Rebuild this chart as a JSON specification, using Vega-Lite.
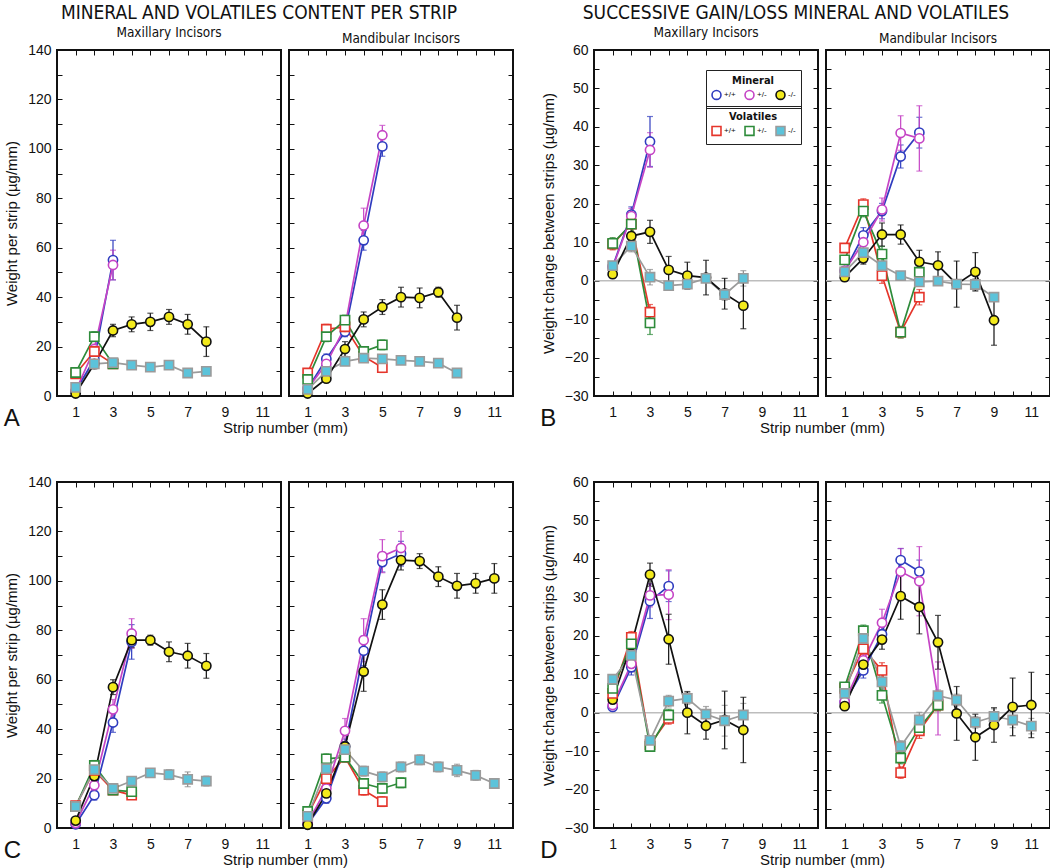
{
"$schema": "https://vega.github.io/schema/vega-lite/v6.json",
"padding": {"left": 3, "top": 3, "right": 2, "bottom": 2},
"datasets": {"d": [
{"p":"A1","k":"M","g":"+/+","x":1,"y":2,"lo":1,"hi":3},
{"p":"A1","k":"M","g":"+/+","x":2,"y":15,"lo":13,"hi":17},
{"p":"A1","k":"M","g":"+/+","x":3,"y":55,"lo":47,"hi":63},
{"p":"A1","k":"M","g":"+/-","x":1,"y":2,"lo":1,"hi":3},
{"p":"A1","k":"M","g":"+/-","x":2,"y":19,"lo":17,"hi":21},
{"p":"A1","k":"M","g":"+/-","x":3,"y":53,"lo":47,"hi":59},
{"p":"A1","k":"M","g":"-/-","x":1,"y":1,"lo":0.5,"hi":1.5},
{"p":"A1","k":"M","g":"-/-","x":2,"y":13,"lo":11,"hi":15},
{"p":"A1","k":"M","g":"-/-","x":3,"y":26.5,"lo":24,"hi":29},
{"p":"A1","k":"M","g":"-/-","x":4,"y":29,"lo":26,"hi":32},
{"p":"A1","k":"M","g":"-/-","x":5,"y":30,"lo":26.5,"hi":33.5},
{"p":"A1","k":"M","g":"-/-","x":6,"y":32,"lo":29,"hi":35},
{"p":"A1","k":"M","g":"-/-","x":7,"y":29,"lo":25,"hi":33},
{"p":"A1","k":"M","g":"-/-","x":8,"y":22,"lo":16,"hi":28},
{"p":"A1","k":"V","g":"+/+","x":1,"y":9,"lo":8,"hi":10},
{"p":"A1","k":"V","g":"+/+","x":2,"y":18,"lo":16,"hi":20},
{"p":"A1","k":"V","g":"+/+","x":3,"y":13,"lo":11.5,"hi":14.5},
{"p":"A1","k":"V","g":"+/-","x":1,"y":9.5,"lo":8.5,"hi":10.5},
{"p":"A1","k":"V","g":"+/-","x":2,"y":24,"lo":22,"hi":26},
{"p":"A1","k":"V","g":"+/-","x":3,"y":13,"lo":11.5,"hi":14.5},
{"p":"A1","k":"V","g":"-/-","x":1,"y":3.5,"lo":2.5,"hi":4.5},
{"p":"A1","k":"V","g":"-/-","x":2,"y":13,"lo":11.5,"hi":14.5},
{"p":"A1","k":"V","g":"-/-","x":3,"y":13.5,"lo":12,"hi":15},
{"p":"A1","k":"V","g":"-/-","x":4,"y":12.5,"lo":11.5,"hi":13.5},
{"p":"A1","k":"V","g":"-/-","x":5,"y":11.7,"lo":10.7,"hi":12.7},
{"p":"A1","k":"V","g":"-/-","x":6,"y":12.5,"lo":11.5,"hi":13.5},
{"p":"A1","k":"V","g":"-/-","x":7,"y":9.3,"lo":8.3,"hi":10.3},
{"p":"A1","k":"V","g":"-/-","x":8,"y":10,"lo":9,"hi":11},

{"p":"A2","k":"M","g":"+/+","x":1,"y":3,"lo":2,"hi":4},
{"p":"A2","k":"M","g":"+/+","x":2,"y":15,"lo":13,"hi":17},
{"p":"A2","k":"M","g":"+/+","x":3,"y":26,"lo":24,"hi":28},
{"p":"A2","k":"M","g":"+/+","x":4,"y":63,"lo":59,"hi":67},
{"p":"A2","k":"M","g":"+/+","x":5,"y":101,"lo":97,"hi":105},
{"p":"A2","k":"M","g":"+/-","x":1,"y":3,"lo":2,"hi":4},
{"p":"A2","k":"M","g":"+/-","x":2,"y":13,"lo":11,"hi":15},
{"p":"A2","k":"M","g":"+/-","x":3,"y":28,"lo":26,"hi":30},
{"p":"A2","k":"M","g":"+/-","x":4,"y":69,"lo":62,"hi":76},
{"p":"A2","k":"M","g":"+/-","x":5,"y":105.5,"lo":101.5,"hi":109.5},
{"p":"A2","k":"M","g":"-/-","x":1,"y":1,"lo":0.5,"hi":1.5},
{"p":"A2","k":"M","g":"-/-","x":2,"y":7,"lo":6,"hi":8},
{"p":"A2","k":"M","g":"-/-","x":3,"y":19,"lo":16,"hi":22},
{"p":"A2","k":"M","g":"-/-","x":4,"y":31,"lo":28,"hi":34},
{"p":"A2","k":"M","g":"-/-","x":5,"y":36,"lo":33,"hi":39},
{"p":"A2","k":"M","g":"-/-","x":6,"y":40,"lo":36,"hi":44},
{"p":"A2","k":"M","g":"-/-","x":7,"y":39.7,"lo":35.7,"hi":43.7},
{"p":"A2","k":"M","g":"-/-","x":8,"y":42,"lo":40,"hi":44},
{"p":"A2","k":"M","g":"-/-","x":9,"y":31.7,"lo":26.7,"hi":36.7},
{"p":"A2","k":"V","g":"+/+","x":1,"y":9.3,"lo":8.3,"hi":10.3},
{"p":"A2","k":"V","g":"+/+","x":2,"y":27,"lo":25,"hi":29},
{"p":"A2","k":"V","g":"+/+","x":3,"y":28,"lo":26,"hi":30},
{"p":"A2","k":"V","g":"+/+","x":4,"y":16,"lo":14,"hi":18},
{"p":"A2","k":"V","g":"+/+","x":5,"y":11.5,"lo":9.5,"hi":13.5},
{"p":"A2","k":"V","g":"+/-","x":1,"y":6.7,"lo":5.7,"hi":7.7},
{"p":"A2","k":"V","g":"+/-","x":2,"y":24,"lo":22,"hi":26},
{"p":"A2","k":"V","g":"+/-","x":3,"y":30.7,"lo":28.7,"hi":32.7},
{"p":"A2","k":"V","g":"+/-","x":4,"y":18,"lo":16,"hi":20},
{"p":"A2","k":"V","g":"+/-","x":5,"y":20.7,"lo":18.7,"hi":22.7},
{"p":"A2","k":"V","g":"-/-","x":1,"y":2.7,"lo":1.7,"hi":3.7},
{"p":"A2","k":"V","g":"-/-","x":2,"y":10,"lo":9,"hi":11},
{"p":"A2","k":"V","g":"-/-","x":3,"y":14,"lo":13,"hi":15},
{"p":"A2","k":"V","g":"-/-","x":4,"y":15.3,"lo":14.3,"hi":16.3},
{"p":"A2","k":"V","g":"-/-","x":5,"y":15,"lo":14,"hi":16},
{"p":"A2","k":"V","g":"-/-","x":6,"y":14.4,"lo":13.4,"hi":15.4},
{"p":"A2","k":"V","g":"-/-","x":7,"y":14,"lo":13,"hi":15},
{"p":"A2","k":"V","g":"-/-","x":8,"y":13.3,"lo":12.3,"hi":14.3},
{"p":"A2","k":"V","g":"-/-","x":9,"y":9.3,"lo":8.3,"hi":10.3},

{"p":"B1","k":"M","g":"+/+","x":1,"y":3.7,"lo":2.7,"hi":4.7},
{"p":"B1","k":"M","g":"+/+","x":2,"y":17.2,"lo":15.2,"hi":19.2},
{"p":"B1","k":"M","g":"+/+","x":3,"y":36.2,"lo":29.7,"hi":42.7},
{"p":"B1","k":"M","g":"+/-","x":1,"y":3.4,"lo":2.4,"hi":4.4},
{"p":"B1","k":"M","g":"+/-","x":2,"y":16.8,"lo":14.8,"hi":18.8},
{"p":"B1","k":"M","g":"+/-","x":3,"y":34,"lo":29.5,"hi":38.5},
{"p":"B1","k":"M","g":"-/-","x":1,"y":1.7,"lo":0.7,"hi":2.7},
{"p":"B1","k":"M","g":"-/-","x":2,"y":11.6,"lo":9.6,"hi":13.6},
{"p":"B1","k":"M","g":"-/-","x":3,"y":12.7,"lo":9.7,"hi":15.7},
{"p":"B1","k":"M","g":"-/-","x":4,"y":2.8,"lo":-0.7,"hi":6.3},
{"p":"B1","k":"M","g":"-/-","x":5,"y":1.3,"lo":-2.2,"hi":4.8},
{"p":"B1","k":"M","g":"-/-","x":6,"y":0.8,"lo":-3.7,"hi":5.3},
{"p":"B1","k":"M","g":"-/-","x":7,"y":-3.4,"lo":-7.4,"hi":0.6},
{"p":"B1","k":"M","g":"-/-","x":8,"y":-6.5,"lo":-12.5,"hi":-0.5},
{"p":"B1","k":"V","g":"+/+","x":1,"y":9.5,"lo":8,"hi":11},
{"p":"B1","k":"V","g":"+/+","x":2,"y":14.7,"lo":12.7,"hi":16.7},
{"p":"B1","k":"V","g":"+/+","x":3,"y":-8.2,"lo":-10.2,"hi":-6.2},
{"p":"B1","k":"V","g":"+/-","x":1,"y":9.7,"lo":8.2,"hi":11.2},
{"p":"B1","k":"V","g":"+/-","x":2,"y":14.7,"lo":12.7,"hi":16.7},
{"p":"B1","k":"V","g":"+/-","x":3,"y":-11,"lo":-14,"hi":-8},
{"p":"B1","k":"V","g":"-/-","x":1,"y":3.9,"lo":2.9,"hi":4.9},
{"p":"B1","k":"V","g":"-/-","x":2,"y":9,"lo":7.5,"hi":10.5},
{"p":"B1","k":"V","g":"-/-","x":3,"y":0.9,"lo":-1.1,"hi":2.9},
{"p":"B1","k":"V","g":"-/-","x":4,"y":-1.3,"lo":-2.3,"hi":-0.3},
{"p":"B1","k":"V","g":"-/-","x":5,"y":-0.9,"lo":-1.9,"hi":0.1},
{"p":"B1","k":"V","g":"-/-","x":6,"y":0.6,"lo":-0.4,"hi":1.6},
{"p":"B1","k":"V","g":"-/-","x":7,"y":-3.6,"lo":-5.1,"hi":-2.1},
{"p":"B1","k":"V","g":"-/-","x":8,"y":0.6,"lo":-1.4,"hi":2.6},

{"p":"B2","k":"M","g":"+/+","x":1,"y":2.5,"lo":1.5,"hi":3.5},
{"p":"B2","k":"M","g":"+/+","x":2,"y":11.8,"lo":9.8,"hi":13.8},
{"p":"B2","k":"M","g":"+/+","x":3,"y":18.1,"lo":16.1,"hi":20.1},
{"p":"B2","k":"M","g":"+/+","x":4,"y":32.3,"lo":29.3,"hi":35.3},
{"p":"B2","k":"M","g":"+/+","x":5,"y":38.5,"lo":34.5,"hi":42.5},
{"p":"B2","k":"M","g":"+/-","x":1,"y":2.6,"lo":1.6,"hi":3.6},
{"p":"B2","k":"M","g":"+/-","x":2,"y":10,"lo":8,"hi":12},
{"p":"B2","k":"M","g":"+/-","x":3,"y":18.5,"lo":15.5,"hi":21.5},
{"p":"B2","k":"M","g":"+/-","x":4,"y":38.4,"lo":33.9,"hi":42.9},
{"p":"B2","k":"M","g":"+/-","x":5,"y":37,"lo":28.5,"hi":45.5},
{"p":"B2","k":"M","g":"-/-","x":1,"y":0.9,"lo":-0.1,"hi":1.9},
{"p":"B2","k":"M","g":"-/-","x":2,"y":5.8,"lo":4.3,"hi":7.3},
{"p":"B2","k":"M","g":"-/-","x":3,"y":12,"lo":9,"hi":15},
{"p":"B2","k":"M","g":"-/-","x":4,"y":12,"lo":9.5,"hi":14.5},
{"p":"B2","k":"M","g":"-/-","x":5,"y":4.9,"lo":1.9,"hi":7.9},
{"p":"B2","k":"M","g":"-/-","x":6,"y":4,"lo":0.5,"hi":7.5},
{"p":"B2","k":"M","g":"-/-","x":7,"y":-0.9,"lo":-6.9,"hi":5.1},
{"p":"B2","k":"M","g":"-/-","x":8,"y":2.3,"lo":-2.7,"hi":7.3},
{"p":"B2","k":"M","g":"-/-","x":9,"y":-10.3,"lo":-16.8,"hi":-3.8},
{"p":"B2","k":"V","g":"+/+","x":1,"y":8.5,"lo":7.5,"hi":9.5},
{"p":"B2","k":"V","g":"+/+","x":2,"y":19.8,"lo":18.3,"hi":21.3},
{"p":"B2","k":"V","g":"+/+","x":3,"y":1.3,"lo":-0.7,"hi":3.3},
{"p":"B2","k":"V","g":"+/+","x":4,"y":-13.4,"lo":-14.9,"hi":-11.9},
{"p":"B2","k":"V","g":"+/+","x":5,"y":-4.3,"lo":-6.3,"hi":-2.3},
{"p":"B2","k":"V","g":"+/-","x":1,"y":5.4,"lo":4.4,"hi":6.4},
{"p":"B2","k":"V","g":"+/-","x":2,"y":18.1,"lo":16.6,"hi":19.6},
{"p":"B2","k":"V","g":"+/-","x":3,"y":6.9,"lo":4.9,"hi":8.9},
{"p":"B2","k":"V","g":"+/-","x":4,"y":-13.4,"lo":-14.9,"hi":-11.9},
{"p":"B2","k":"V","g":"+/-","x":5,"y":2.2,"lo":0.2,"hi":4.2},
{"p":"B2","k":"V","g":"-/-","x":1,"y":2.3,"lo":1.3,"hi":3.3},
{"p":"B2","k":"V","g":"-/-","x":2,"y":7.3,"lo":6.3,"hi":8.3},
{"p":"B2","k":"V","g":"-/-","x":3,"y":3.9,"lo":2.9,"hi":4.9},
{"p":"B2","k":"V","g":"-/-","x":4,"y":1.3,"lo":0.3,"hi":2.3},
{"p":"B2","k":"V","g":"-/-","x":5,"y":-0.3,"lo":-1.3,"hi":0.7},
{"p":"B2","k":"V","g":"-/-","x":6,"y":-0.1,"lo":-1.1,"hi":0.9},
{"p":"B2","k":"V","g":"-/-","x":7,"y":-0.9,"lo":-1.9,"hi":0.1},
{"p":"B2","k":"V","g":"-/-","x":8,"y":-1,"lo":-2.5,"hi":0.5},
{"p":"B2","k":"V","g":"-/-","x":9,"y":-4.3,"lo":-5.3,"hi":-3.3},

{"p":"C1","k":"M","g":"+/+","x":1,"y":1.5,"lo":0.5,"hi":2.5},
{"p":"C1","k":"M","g":"+/+","x":2,"y":13.3,"lo":11.3,"hi":15.3},
{"p":"C1","k":"M","g":"+/+","x":3,"y":42.7,"lo":38.7,"hi":46.7},
{"p":"C1","k":"M","g":"+/+","x":4,"y":75.3,"lo":68.3,"hi":82.3},
{"p":"C1","k":"M","g":"+/-","x":1,"y":2,"lo":1,"hi":3},
{"p":"C1","k":"M","g":"+/-","x":2,"y":17.3,"lo":15.3,"hi":19.3},
{"p":"C1","k":"M","g":"+/-","x":3,"y":48,"lo":44,"hi":52},
{"p":"C1","k":"M","g":"+/-","x":4,"y":78.7,"lo":72.7,"hi":84.7},
{"p":"C1","k":"M","g":"-/-","x":1,"y":3,"lo":2,"hi":4},
{"p":"C1","k":"M","g":"-/-","x":2,"y":21,"lo":19,"hi":23},
{"p":"C1","k":"M","g":"-/-","x":3,"y":57,"lo":54,"hi":60},
{"p":"C1","k":"M","g":"-/-","x":4,"y":76,"lo":73,"hi":79},
{"p":"C1","k":"M","g":"-/-","x":5,"y":76,"lo":74,"hi":78},
{"p":"C1","k":"M","g":"-/-","x":6,"y":71.3,"lo":67.3,"hi":75.3},
{"p":"C1","k":"M","g":"-/-","x":7,"y":69.7,"lo":64.7,"hi":74.7},
{"p":"C1","k":"M","g":"-/-","x":8,"y":65.6,"lo":60.6,"hi":70.6},
{"p":"C1","k":"V","g":"+/+","x":1,"y":9,"lo":8,"hi":10},
{"p":"C1","k":"V","g":"+/+","x":2,"y":23.3,"lo":21.3,"hi":25.3},
{"p":"C1","k":"V","g":"+/+","x":3,"y":15.3,"lo":14.3,"hi":16.3},
{"p":"C1","k":"V","g":"+/+","x":4,"y":13.3,"lo":12.3,"hi":14.3},
{"p":"C1","k":"V","g":"+/-","x":1,"y":8.7,"lo":7.7,"hi":9.7},
{"p":"C1","k":"V","g":"+/-","x":2,"y":25.3,"lo":23.3,"hi":27.3},
{"p":"C1","k":"V","g":"+/-","x":3,"y":15.3,"lo":14.3,"hi":16.3},
{"p":"C1","k":"V","g":"+/-","x":4,"y":14.7,"lo":13.7,"hi":15.7},
{"p":"C1","k":"V","g":"-/-","x":1,"y":8.7,"lo":7.7,"hi":9.7},
{"p":"C1","k":"V","g":"-/-","x":2,"y":23.6,"lo":21.6,"hi":25.6},
{"p":"C1","k":"V","g":"-/-","x":3,"y":16,"lo":15,"hi":17},
{"p":"C1","k":"V","g":"-/-","x":4,"y":19,"lo":18,"hi":20},
{"p":"C1","k":"V","g":"-/-","x":5,"y":22.3,"lo":21.3,"hi":23.3},
{"p":"C1","k":"V","g":"-/-","x":6,"y":21.6,"lo":19.6,"hi":23.6},
{"p":"C1","k":"V","g":"-/-","x":7,"y":19.7,"lo":16.7,"hi":22.7},
{"p":"C1","k":"V","g":"-/-","x":8,"y":19,"lo":17,"hi":21},

{"p":"C2","k":"M","g":"+/+","x":1,"y":1.5,"lo":0.5,"hi":2.5},
{"p":"C2","k":"M","g":"+/+","x":2,"y":12,"lo":10,"hi":14},
{"p":"C2","k":"M","g":"+/+","x":3,"y":33,"lo":30,"hi":36},
{"p":"C2","k":"M","g":"+/+","x":4,"y":71.7,"lo":65.7,"hi":77.7},
{"p":"C2","k":"M","g":"+/+","x":5,"y":107.6,"lo":103.6,"hi":111.6},
{"p":"C2","k":"M","g":"+/+","x":6,"y":111,"lo":106,"hi":116},
{"p":"C2","k":"M","g":"+/-","x":1,"y":2,"lo":1,"hi":3},
{"p":"C2","k":"M","g":"+/-","x":2,"y":16,"lo":14,"hi":18},
{"p":"C2","k":"M","g":"+/-","x":3,"y":39.3,"lo":34.3,"hi":44.3},
{"p":"C2","k":"M","g":"+/-","x":4,"y":76,"lo":67.3,"hi":84.7},
{"p":"C2","k":"M","g":"+/-","x":5,"y":110,"lo":103.3,"hi":116.7},
{"p":"C2","k":"M","g":"+/-","x":6,"y":113.3,"lo":106.6,"hi":120},
{"p":"C2","k":"M","g":"-/-","x":1,"y":1.3,"lo":0.3,"hi":2.3},
{"p":"C2","k":"M","g":"-/-","x":2,"y":14,"lo":12,"hi":16},
{"p":"C2","k":"M","g":"-/-","x":3,"y":33,"lo":31,"hi":35},
{"p":"C2","k":"M","g":"-/-","x":4,"y":63.3,"lo":55.3,"hi":71.3},
{"p":"C2","k":"M","g":"-/-","x":5,"y":90.4,"lo":84.4,"hi":96.4},
{"p":"C2","k":"M","g":"-/-","x":6,"y":108.4,"lo":104.4,"hi":112.4},
{"p":"C2","k":"M","g":"-/-","x":7,"y":108,"lo":105,"hi":111},
{"p":"C2","k":"M","g":"-/-","x":8,"y":101.7,"lo":97.7,"hi":105.7},
{"p":"C2","k":"M","g":"-/-","x":9,"y":98,"lo":93,"hi":103},
{"p":"C2","k":"M","g":"-/-","x":10,"y":99,"lo":95,"hi":103},
{"p":"C2","k":"M","g":"-/-","x":11,"y":101,"lo":95,"hi":107},
{"p":"C2","k":"V","g":"+/+","x":1,"y":5.3,"lo":4.3,"hi":6.3},
{"p":"C2","k":"V","g":"+/+","x":2,"y":20,"lo":18,"hi":22},
{"p":"C2","k":"V","g":"+/+","x":3,"y":28.7,"lo":26.7,"hi":30.7},
{"p":"C2","k":"V","g":"+/+","x":4,"y":15.3,"lo":13.3,"hi":17.3},
{"p":"C2","k":"V","g":"+/+","x":5,"y":10.7,"lo":8.7,"hi":12.7},
{"p":"C2","k":"V","g":"+/-","x":1,"y":6.7,"lo":5.7,"hi":7.7},
{"p":"C2","k":"V","g":"+/-","x":2,"y":28,"lo":26,"hi":30},
{"p":"C2","k":"V","g":"+/-","x":3,"y":28.7,"lo":26.7,"hi":30.7},
{"p":"C2","k":"V","g":"+/-","x":4,"y":18,"lo":16,"hi":20},
{"p":"C2","k":"V","g":"+/-","x":5,"y":16,"lo":14,"hi":18},
{"p":"C2","k":"V","g":"+/-","x":6,"y":18.3,"lo":16.3,"hi":20.3},
{"p":"C2","k":"V","g":"-/-","x":1,"y":4.7,"lo":3.7,"hi":5.7},
{"p":"C2","k":"V","g":"-/-","x":2,"y":24,"lo":22,"hi":26},
{"p":"C2","k":"V","g":"-/-","x":3,"y":31.7,"lo":29.7,"hi":33.7},
{"p":"C2","k":"V","g":"-/-","x":4,"y":23,"lo":21,"hi":25},
{"p":"C2","k":"V","g":"-/-","x":5,"y":20.7,"lo":18.7,"hi":22.7},
{"p":"C2","k":"V","g":"-/-","x":6,"y":24.7,"lo":22.7,"hi":26.7},
{"p":"C2","k":"V","g":"-/-","x":7,"y":27.6,"lo":25.6,"hi":29.6},
{"p":"C2","k":"V","g":"-/-","x":8,"y":24.7,"lo":22.7,"hi":26.7},
{"p":"C2","k":"V","g":"-/-","x":9,"y":23.3,"lo":20.8,"hi":25.8},
{"p":"C2","k":"V","g":"-/-","x":10,"y":21.3,"lo":19.3,"hi":23.3},
{"p":"C2","k":"V","g":"-/-","x":11,"y":18,"lo":16.5,"hi":19.5},

{"p":"D1","k":"M","g":"+/+","x":1,"y":1.5,"lo":0.5,"hi":2.5},
{"p":"D1","k":"M","g":"+/+","x":2,"y":11.8,"lo":9.8,"hi":13.8},
{"p":"D1","k":"M","g":"+/+","x":3,"y":29,"lo":24.5,"hi":33.5},
{"p":"D1","k":"M","g":"+/+","x":4,"y":32.9,"lo":28.9,"hi":36.9},
{"p":"D1","k":"M","g":"+/-","x":1,"y":2,"lo":1,"hi":3},
{"p":"D1","k":"M","g":"+/-","x":2,"y":12.7,"lo":10.7,"hi":14.7},
{"p":"D1","k":"M","g":"+/-","x":3,"y":30.5,"lo":27.5,"hi":33.5},
{"p":"D1","k":"M","g":"+/-","x":4,"y":30.7,"lo":24.2,"hi":37.2},
{"p":"D1","k":"M","g":"-/-","x":1,"y":3.4,"lo":2.4,"hi":4.4},
{"p":"D1","k":"M","g":"-/-","x":2,"y":17.6,"lo":15.6,"hi":19.6},
{"p":"D1","k":"M","g":"-/-","x":3,"y":35.9,"lo":32.9,"hi":38.9},
{"p":"D1","k":"M","g":"-/-","x":4,"y":19.1,"lo":12.6,"hi":25.6},
{"p":"D1","k":"M","g":"-/-","x":5,"y":0,"lo":-5.5,"hi":5.5},
{"p":"D1","k":"M","g":"-/-","x":6,"y":-3.4,"lo":-6.9,"hi":0.1},
{"p":"D1","k":"M","g":"-/-","x":7,"y":-1.9,"lo":-9.4,"hi":5.6},
{"p":"D1","k":"M","g":"-/-","x":8,"y":-4.5,"lo":-13,"hi":4},
{"p":"D1","k":"V","g":"+/+","x":1,"y":5,"lo":4,"hi":6},
{"p":"D1","k":"V","g":"+/+","x":2,"y":19.6,"lo":18.1,"hi":21.1},
{"p":"D1","k":"V","g":"+/+","x":3,"y":-8.3,"lo":-9.3,"hi":-7.3},
{"p":"D1","k":"V","g":"+/+","x":4,"y":-1.5,"lo":-3,"hi":0},
{"p":"D1","k":"V","g":"+/-","x":1,"y":6.3,"lo":5.3,"hi":7.3},
{"p":"D1","k":"V","g":"+/-","x":2,"y":17.9,"lo":16.4,"hi":19.4},
{"p":"D1","k":"V","g":"+/-","x":3,"y":-8.8,"lo":-9.8,"hi":-7.8},
{"p":"D1","k":"V","g":"+/-","x":4,"y":-0.6,"lo":-2.1,"hi":0.9},
{"p":"D1","k":"V","g":"-/-","x":1,"y":8.7,"lo":7.7,"hi":9.7},
{"p":"D1","k":"V","g":"-/-","x":2,"y":14.9,"lo":13.4,"hi":16.4},
{"p":"D1","k":"V","g":"-/-","x":3,"y":-7.2,"lo":-8.2,"hi":-6.2},
{"p":"D1","k":"V","g":"-/-","x":4,"y":3,"lo":1.5,"hi":4.5},
{"p":"D1","k":"V","g":"-/-","x":5,"y":3.7,"lo":2.2,"hi":5.2},
{"p":"D1","k":"V","g":"-/-","x":6,"y":-0.4,"lo":-2.4,"hi":1.6},
{"p":"D1","k":"V","g":"-/-","x":7,"y":-2.1,"lo":-6.1,"hi":1.9},
{"p":"D1","k":"V","g":"-/-","x":8,"y":-0.6,"lo":-3.6,"hi":2.4},

{"p":"D2","k":"M","g":"+/+","x":1,"y":2.8,"lo":1.8,"hi":3.8},
{"p":"D2","k":"M","g":"+/+","x":2,"y":11,"lo":9,"hi":13},
{"p":"D2","k":"M","g":"+/+","x":3,"y":20.4,"lo":18.4,"hi":22.4},
{"p":"D2","k":"M","g":"+/+","x":4,"y":39.7,"lo":36.7,"hi":42.7},
{"p":"D2","k":"M","g":"+/+","x":5,"y":36.7,"lo":33.7,"hi":39.7},
{"p":"D2","k":"M","g":"+/-","x":1,"y":2.8,"lo":1.8,"hi":3.8},
{"p":"D2","k":"M","g":"+/-","x":2,"y":13.6,"lo":11.6,"hi":15.6},
{"p":"D2","k":"M","g":"+/-","x":3,"y":23.4,"lo":19.9,"hi":26.9},
{"p":"D2","k":"M","g":"+/-","x":4,"y":36.7,"lo":30.7,"hi":42.7},
{"p":"D2","k":"M","g":"+/-","x":5,"y":34.2,"lo":25.2,"hi":43.2},
{"p":"D2","k":"M","g":"+/-","x":6,"y":3.7,"lo":-5.8,"hi":13.2},
{"p":"D2","k":"M","g":"-/-","x":1,"y":1.7,"lo":0.7,"hi":2.7},
{"p":"D2","k":"M","g":"-/-","x":2,"y":12.5,"lo":10.5,"hi":14.5},
{"p":"D2","k":"M","g":"-/-","x":3,"y":19,"lo":16.5,"hi":21.5},
{"p":"D2","k":"M","g":"-/-","x":4,"y":30.3,"lo":24.3,"hi":36.3},
{"p":"D2","k":"M","g":"-/-","x":5,"y":27.5,"lo":20.5,"hi":34.5},
{"p":"D2","k":"M","g":"-/-","x":6,"y":18.3,"lo":11.3,"hi":25.3},
{"p":"D2","k":"M","g":"-/-","x":7,"y":-0.2,"lo":-7.2,"hi":6.8},
{"p":"D2","k":"M","g":"-/-","x":8,"y":-6.4,"lo":-12.4,"hi":-0.4},
{"p":"D2","k":"M","g":"-/-","x":9,"y":-3.2,"lo":-7.7,"hi":1.3},
{"p":"D2","k":"M","g":"-/-","x":10,"y":1.5,"lo":-6,"hi":9},
{"p":"D2","k":"M","g":"-/-","x":11,"y":2,"lo":-6.5,"hi":10.5},
{"p":"D2","k":"V","g":"+/+","x":1,"y":6.3,"lo":5.3,"hi":7.3},
{"p":"D2","k":"V","g":"+/+","x":2,"y":16.6,"lo":15.1,"hi":18.1},
{"p":"D2","k":"V","g":"+/+","x":3,"y":11,"lo":9,"hi":13},
{"p":"D2","k":"V","g":"+/+","x":4,"y":-15.6,"lo":-17.1,"hi":-14.1},
{"p":"D2","k":"V","g":"+/+","x":5,"y":-4.7,"lo":-6.7,"hi":-2.7},
{"p":"D2","k":"V","g":"+/+","x":6,"y":2,"lo":0.5,"hi":3.5},
{"p":"D2","k":"V","g":"+/-","x":1,"y":6.7,"lo":5.7,"hi":7.7},
{"p":"D2","k":"V","g":"+/-","x":2,"y":21.3,"lo":19.8,"hi":22.8},
{"p":"D2","k":"V","g":"+/-","x":3,"y":4.5,"lo":2.5,"hi":6.5},
{"p":"D2","k":"V","g":"+/-","x":4,"y":-11.8,"lo":-13.3,"hi":-10.3},
{"p":"D2","k":"V","g":"+/-","x":5,"y":-3.9,"lo":-5.9,"hi":-1.9},
{"p":"D2","k":"V","g":"+/-","x":6,"y":2,"lo":0.5,"hi":3.5},
{"p":"D2","k":"V","g":"-/-","x":1,"y":5,"lo":4,"hi":6},
{"p":"D2","k":"V","g":"-/-","x":2,"y":19.3,"lo":17.8,"hi":20.8},
{"p":"D2","k":"V","g":"-/-","x":3,"y":8,"lo":6,"hi":10},
{"p":"D2","k":"V","g":"-/-","x":4,"y":-8.8,"lo":-10.3,"hi":-7.3},
{"p":"D2","k":"V","g":"-/-","x":5,"y":-1.9,"lo":-3.9,"hi":0.1},
{"p":"D2","k":"V","g":"-/-","x":6,"y":4.4,"lo":2.9,"hi":5.9},
{"p":"D2","k":"V","g":"-/-","x":7,"y":3.3,"lo":1.8,"hi":4.8},
{"p":"D2","k":"V","g":"-/-","x":8,"y":-2.5,"lo":-4,"hi":-1},
{"p":"D2","k":"V","g":"-/-","x":9,"y":-1,"lo":-3,"hi":1},
{"p":"D2","k":"V","g":"-/-","x":10,"y":-1.9,"lo":-3.9,"hi":0.1},
{"p":"D2","k":"V","g":"-/-","x":11,"y":-3.5,"lo":-5.5,"hi":-1.5}
]},
"data": {"name": "d"},
"config": {
  "view": {"stroke": "#111111", "strokeWidth": 2},
  "font": "Liberation Sans",
  "axis": {"domain": false, "grid": false, "tickSize": -5, "tickColor": "#111111", "tickWidth": 1, "labelFontSize": 14, "labelColor": "#111111", "labelFont": "Liberation Sans", "labelFlush": false, "labelOverlap": false, "titleFontSize": 15, "titleFontWeight": "normal", "titleColor": "#111111", "titleFont": "Liberation Sans"},
  "title": {"font": "Liberation Sans Narrow, DejaVu Sans Condensed, sans-serif", "fontWeight": "normal", "color": "#111111"},
  "point": {"filled": true, "size": 85, "strokeWidth": 1.6, "opacity": 1},
  "line": {"strokeWidth": 1.7},
  "legend": {"orient": "none", "direction": "horizontal", "titleFontSize": 11, "titleFontWeight": "bold", "titleFont": "Liberation Sans Narrow, DejaVu Sans Condensed, sans-serif", "titleAnchor": "middle", "titleColor": "#111111", "titlePadding": 3, "labelFontSize": 8, "labelFont": "Liberation Sans", "labelColor": "#111111", "symbolSize": 80, "symbolStrokeWidth": 1.6, "columnPadding": 5, "strokeColor": "#222222", "padding": 5, "labelOffset": 2}
},
"spacing": 38,
"vconcat": [
{"spacing": 25, "hconcat": [
 {"title": {"text": "MINERAL AND VOLATILES CONTENT PER STRIP", "fontSize": 19, "anchor": "middle", "offset": 2}, "vconcat": [
  {"title": {"text": "A", "orient": "bottom", "anchor": "start", "fontSize": 24, "font": "Liberation Sans", "offset": -29}, "spacing": 8, "bounds": "flush", "hconcat": [
   {"width": 224, "height": 346, "title": {"text": "Maxillary Incisors", "fontSize": 13.5, "offset": 4},
    "transform": [{"filter": "datum.p=='A1'"}],
    "layer": [
     {"transform":[{"filter":"datum.k=='V'"}],"mark":{"type":"errorbar","ticks":{"size":6},"thickness":1.2},"encoding":{"x":{"field":"x","type":"quantitative","scale":{"domain":[0,12],"nice":false,"zero":false},"axis":null},"y":{"field":"lo","type":"quantitative","scale":{"domain":[0,140],"nice":false,"zero":false},"axis":null},"y2":{"field":"hi"},"color":{"field":"g","type":"nominal","scale":{"domain":["+/+","+/-","-/-"],"range":["#e5352b","#2e8b3a","#8a8a8a"]},"legend":null}}},
     {"transform":[{"filter":"datum.k=='M'"}],"mark":{"type":"errorbar","ticks":{"size":6},"thickness":1.2},"encoding":{"x":{"field":"x","type":"quantitative","scale":{"domain":[0,12],"nice":false,"zero":false},"axis":null},"y":{"field":"lo","type":"quantitative","scale":{"domain":[0,140],"nice":false,"zero":false},"axis":null},"y2":{"field":"hi"},"color":{"field":"g","type":"nominal","scale":{"domain":["+/+","+/-","-/-"],"range":["#2f3cbf","#c544c5","#111111"]},"legend":null}}},
     {"transform":[{"filter":"datum.k=='V'"}],"mark":"line","encoding":{"x":{"field":"x","type":"quantitative","scale":{"domain":[0,12],"nice":false,"zero":false},"axis":null},"y":{"field":"y","type":"quantitative","scale":{"domain":[0,140],"nice":false,"zero":false},"axis":null},"stroke":{"field":"g","type":"nominal","scale":{"domain":["+/+","+/-","-/-"],"range":["#e5352b","#2e8b3a","#9b9b9b"]},"legend":null}}},
     {"transform":[{"filter":"datum.k=='M'"}],"mark":"line","encoding":{"x":{"field":"x","type":"quantitative","scale":{"domain":[0,12],"nice":false,"zero":false},"axis":{"orient":"bottom","values":[1,2,3,4,5,6,7,8,9,10,11],"labelExpr":"datum.value % 2 == 1 ? datum.label : ''","labelPadding":14,"title":"Strip number (mm)","titleX":228,"titleY":24}},"y":{"field":"y","type":"quantitative","scale":{"domain":[0,140],"nice":false,"zero":false},"axis":{"orient":"left","values":[0,10,20,30,40,50,60,70,80,90,100,110,120,130,140],"labelExpr":"datum.value % 20 == 0 ? datum.label : ''","labelPadding":11,"title":"Weight per strip (µg/mm)","titlePadding":8}},"stroke":{"field":"g","type":"nominal","scale":{"domain":["+/+","+/-","-/-"],"range":["#2f3cbf","#c544c5","#111111"]},"legend":null}}},
     {"transform":[{"filter":"datum.k=='M'"}],"mark":{"type":"point","shape":"circle"},"encoding":{"x":{"field":"x","type":"quantitative","scale":{"domain":[0,12],"nice":false,"zero":false},"axis":{"orient":"top","values":[1,2,3,4,5,6,7,8,9,10,11],"labels":false,"title":null}},"y":{"field":"y","type":"quantitative","scale":{"domain":[0,140],"nice":false,"zero":false},"axis":{"orient":"right","values":[0,10,20,30,40,50,60,70,80,90,100,110,120,130,140],"labels":false,"title":null}},"stroke":{"field":"g","type":"nominal","scale":{"domain":["+/+","+/-","-/-"],"range":["#2f3cbf","#c544c5","#111111"]},"legend":null},"fill":{"field":"g","type":"nominal","scale":{"domain":["+/+","+/-","-/-"],"range":["#ffffff","#ffffff","#f3ea1c"]},"legend":null}}},
     {"transform":[{"filter":"datum.k=='V'"}],"mark":{"type":"point","shape":"square"},"encoding":{"x":{"field":"x","type":"quantitative","scale":{"domain":[0,12],"nice":false,"zero":false},"axis":null},"y":{"field":"y","type":"quantitative","scale":{"domain":[0,140],"nice":false,"zero":false},"axis":null},"stroke":{"field":"g","type":"nominal","scale":{"domain":["+/+","+/-","-/-"],"range":["#e5352b","#2e8b3a","#9b9b9b"]},"legend":null},"fill":{"field":"g","type":"nominal","scale":{"domain":["+/+","+/-","-/-"],"range":["#ffffff","#ffffff","#5cc3da"]},"legend":null}}}
    ],
    "resolve": {"scale": {"color": "independent", "stroke": "independent", "fill": "independent"}, "axis": {"x": "independent", "y": "independent"}}
   },
   {"width": 224, "height": 346, "title": {"text": "Mandibular Incisors", "fontSize": 13.5, "offset": 4},
    "transform": [{"filter": "datum.p=='A2'"}],
    "layer": [
     {"transform":[{"filter":"datum.k=='V'"}],"mark":{"type":"errorbar","ticks":{"size":6},"thickness":1.2},"encoding":{"x":{"field":"x","type":"quantitative","scale":{"domain":[0,12],"nice":false,"zero":false},"axis":null},"y":{"field":"lo","type":"quantitative","scale":{"domain":[0,140],"nice":false,"zero":false},"axis":null},"y2":{"field":"hi"},"color":{"field":"g","type":"nominal","scale":{"domain":["+/+","+/-","-/-"],"range":["#e5352b","#2e8b3a","#8a8a8a"]},"legend":null}}},
     {"transform":[{"filter":"datum.k=='M'"}],"mark":{"type":"errorbar","ticks":{"size":6},"thickness":1.2},"encoding":{"x":{"field":"x","type":"quantitative","scale":{"domain":[0,12],"nice":false,"zero":false},"axis":null},"y":{"field":"lo","type":"quantitative","scale":{"domain":[0,140],"nice":false,"zero":false},"axis":null},"y2":{"field":"hi"},"color":{"field":"g","type":"nominal","scale":{"domain":["+/+","+/-","-/-"],"range":["#2f3cbf","#c544c5","#111111"]},"legend":null}}},
     {"transform":[{"filter":"datum.k=='V'"}],"mark":"line","encoding":{"x":{"field":"x","type":"quantitative","scale":{"domain":[0,12],"nice":false,"zero":false},"axis":null},"y":{"field":"y","type":"quantitative","scale":{"domain":[0,140],"nice":false,"zero":false},"axis":null},"stroke":{"field":"g","type":"nominal","scale":{"domain":["+/+","+/-","-/-"],"range":["#e5352b","#2e8b3a","#9b9b9b"]},"legend":null}}},
     {"transform":[{"filter":"datum.k=='M'"}],"mark":"line","encoding":{"x":{"field":"x","type":"quantitative","scale":{"domain":[0,12],"nice":false,"zero":false},"axis":{"orient":"bottom","values":[1,2,3,4,5,6,7,8,9,10,11],"labelExpr":"datum.value % 2 == 1 ? datum.label : ''","labelPadding":14,"title":null}},"y":{"field":"y","type":"quantitative","scale":{"domain":[0,140],"nice":false,"zero":false},"axis":{"orient":"left","values":[0,10,20,30,40,50,60,70,80,90,100,110,120,130,140],"labels":false,"title":null}},"stroke":{"field":"g","type":"nominal","scale":{"domain":["+/+","+/-","-/-"],"range":["#2f3cbf","#c544c5","#111111"]},"legend":null}}},
     {"transform":[{"filter":"datum.k=='M'"}],"mark":{"type":"point","shape":"circle"},"encoding":{"x":{"field":"x","type":"quantitative","scale":{"domain":[0,12],"nice":false,"zero":false},"axis":{"orient":"top","values":[1,2,3,4,5,6,7,8,9,10,11],"labels":false,"title":null}},"y":{"field":"y","type":"quantitative","scale":{"domain":[0,140],"nice":false,"zero":false},"axis":{"orient":"right","values":[0,10,20,30,40,50,60,70,80,90,100,110,120,130,140],"labels":false,"title":null}},"stroke":{"field":"g","type":"nominal","scale":{"domain":["+/+","+/-","-/-"],"range":["#2f3cbf","#c544c5","#111111"]},"legend":null},"fill":{"field":"g","type":"nominal","scale":{"domain":["+/+","+/-","-/-"],"range":["#ffffff","#ffffff","#f3ea1c"]},"legend":null}}},
     {"transform":[{"filter":"datum.k=='V'"}],"mark":{"type":"point","shape":"square"},"encoding":{"x":{"field":"x","type":"quantitative","scale":{"domain":[0,12],"nice":false,"zero":false},"axis":null},"y":{"field":"y","type":"quantitative","scale":{"domain":[0,140],"nice":false,"zero":false},"axis":null},"stroke":{"field":"g","type":"nominal","scale":{"domain":["+/+","+/-","-/-"],"range":["#e5352b","#2e8b3a","#9b9b9b"]},"legend":null},"fill":{"field":"g","type":"nominal","scale":{"domain":["+/+","+/-","-/-"],"range":["#ffffff","#ffffff","#5cc3da"]},"legend":null}}}
    ],
    "resolve": {"scale": {"color": "independent", "stroke": "independent", "fill": "independent"}, "axis": {"x": "independent", "y": "independent"}}
   }
  ]}
 ]},
 {"title": {"text": "SUCCESSIVE GAIN/LOSS MINERAL AND VOLATILES", "fontSize": 19, "anchor": "middle", "offset": 2}, "vconcat": [
  {"title": {"text": "B", "orient": "bottom", "anchor": "start", "fontSize": 24, "font": "Liberation Sans", "offset": -29}, "spacing": 8, "bounds": "flush", "hconcat": [
   {"width": 224, "height": 346, "title": {"text": "Maxillary Incisors", "fontSize": 13.5, "offset": 4},
    "transform": [{"filter": "datum.p=='B1'"}],
    "layer": [
     {"data":{"values":[{}]},"mark":{"type":"rule","color":"#bdbdbd","strokeWidth":1.5},"encoding":{"y":{"datum":0,"type":"quantitative","scale":{"domain":[-30,60],"nice":false,"zero":false},"axis":null}}},
     {"transform":[{"filter":"datum.k=='V'"}],"mark":{"type":"errorbar","ticks":{"size":6},"thickness":1.2},"encoding":{"x":{"field":"x","type":"quantitative","scale":{"domain":[0,12],"nice":false,"zero":false},"axis":null},"y":{"field":"lo","type":"quantitative","scale":{"domain":[-30,60],"nice":false,"zero":false},"axis":null},"y2":{"field":"hi"},"color":{"field":"g","type":"nominal","scale":{"domain":["+/+","+/-","-/-"],"range":["#e5352b","#2e8b3a","#8a8a8a"]},"legend":null}}},
     {"transform":[{"filter":"datum.k=='M'"}],"mark":{"type":"errorbar","ticks":{"size":6},"thickness":1.2},"encoding":{"x":{"field":"x","type":"quantitative","scale":{"domain":[0,12],"nice":false,"zero":false},"axis":null},"y":{"field":"lo","type":"quantitative","scale":{"domain":[-30,60],"nice":false,"zero":false},"axis":null},"y2":{"field":"hi"},"color":{"field":"g","type":"nominal","scale":{"domain":["+/+","+/-","-/-"],"range":["#2f3cbf","#c544c5","#111111"]},"legend":null}}},
     {"transform":[{"filter":"datum.k=='V'"}],"mark":"line","encoding":{"x":{"field":"x","type":"quantitative","scale":{"domain":[0,12],"nice":false,"zero":false},"axis":null},"y":{"field":"y","type":"quantitative","scale":{"domain":[-30,60],"nice":false,"zero":false},"axis":null},"stroke":{"field":"g","type":"nominal","scale":{"domain":["+/+","+/-","-/-"],"range":["#e5352b","#2e8b3a","#9b9b9b"]},"legend":null}}},
     {"transform":[{"filter":"datum.k=='M'"}],"mark":"line","encoding":{"x":{"field":"x","type":"quantitative","scale":{"domain":[0,12],"nice":false,"zero":false},"axis":{"orient":"bottom","values":[1,2,3,4,5,6,7,8,9,10,11],"labelExpr":"datum.value % 2 == 1 ? datum.label : ''","labelPadding":14,"title":"Strip number (mm)","titleX":228,"titleY":24}},"y":{"field":"y","type":"quantitative","scale":{"domain":[-30,60],"nice":false,"zero":false},"axis":{"orient":"left","values":[-30,-25,-20,-15,-10,-5,0,5,10,15,20,25,30,35,40,45,50,55,60],"labelExpr":"datum.value % 10 == 0 ? datum.label : ''","labelPadding":11,"title":"Weight change between strips (µg/mm)","titlePadding":8}},"stroke":{"field":"g","type":"nominal","scale":{"domain":["+/+","+/-","-/-"],"range":["#2f3cbf","#c544c5","#111111"]},"legend":null}}},
     {"transform":[{"filter":"datum.k=='M'"}],"mark":{"type":"point","shape":"circle"},"encoding":{"x":{"field":"x","type":"quantitative","scale":{"domain":[0,12],"nice":false,"zero":false},"axis":{"orient":"top","values":[1,2,3,4,5,6,7,8,9,10,11],"labels":false,"title":null}},"y":{"field":"y","type":"quantitative","scale":{"domain":[-30,60],"nice":false,"zero":false},"axis":{"orient":"right","values":[-30,-25,-20,-15,-10,-5,0,5,10,15,20,25,30,35,40,45,50,55,60],"labels":false,"title":null}},"stroke":{"field":"g","type":"nominal","scale":{"domain":["+/+","+/-","-/-"],"range":["#2f3cbf","#c544c5","#111111"]},"legend":{"title":"Mineral","orient":"none","legendX":112,"legendY":20}},"fill":{"field":"g","type":"nominal","scale":{"domain":["+/+","+/-","-/-"],"range":["#ffffff","#ffffff","#f3ea1c"]},"legend":{"title":"Mineral","orient":"none","legendX":112,"legendY":20}}}},
     {"transform":[{"filter":"datum.k=='V'"}],"mark":{"type":"point","shape":"square"},"encoding":{"x":{"field":"x","type":"quantitative","scale":{"domain":[0,12],"nice":false,"zero":false},"axis":null},"y":{"field":"y","type":"quantitative","scale":{"domain":[-30,60],"nice":false,"zero":false},"axis":null},"stroke":{"field":"g","type":"nominal","scale":{"domain":["+/+","+/-","-/-"],"range":["#e5352b","#2e8b3a","#9b9b9b"]},"legend":{"title":"Volatiles","orient":"none","legendX":112,"legendY":56}},"fill":{"field":"g","type":"nominal","scale":{"domain":["+/+","+/-","-/-"],"range":["#ffffff","#ffffff","#5cc3da"]},"legend":{"title":"Volatiles","orient":"none","legendX":112,"legendY":56}}}}
    ],
    "resolve": {"scale": {"color": "independent", "stroke": "independent", "fill": "independent"}, "axis": {"x": "independent", "y": "independent"}}
   },
   {"width": 224, "height": 346, "title": {"text": "Mandibular Incisors", "fontSize": 13.5, "offset": 4},
    "transform": [{"filter": "datum.p=='B2'"}],
    "layer": [
     {"data":{"values":[{}]},"mark":{"type":"rule","color":"#bdbdbd","strokeWidth":1.5},"encoding":{"y":{"datum":0,"type":"quantitative","scale":{"domain":[-30,60],"nice":false,"zero":false},"axis":null}}},
     {"transform":[{"filter":"datum.k=='V'"}],"mark":{"type":"errorbar","ticks":{"size":6},"thickness":1.2},"encoding":{"x":{"field":"x","type":"quantitative","scale":{"domain":[0,12],"nice":false,"zero":false},"axis":null},"y":{"field":"lo","type":"quantitative","scale":{"domain":[-30,60],"nice":false,"zero":false},"axis":null},"y2":{"field":"hi"},"color":{"field":"g","type":"nominal","scale":{"domain":["+/+","+/-","-/-"],"range":["#e5352b","#2e8b3a","#8a8a8a"]},"legend":null}}},
     {"transform":[{"filter":"datum.k=='M'"}],"mark":{"type":"errorbar","ticks":{"size":6},"thickness":1.2},"encoding":{"x":{"field":"x","type":"quantitative","scale":{"domain":[0,12],"nice":false,"zero":false},"axis":null},"y":{"field":"lo","type":"quantitative","scale":{"domain":[-30,60],"nice":false,"zero":false},"axis":null},"y2":{"field":"hi"},"color":{"field":"g","type":"nominal","scale":{"domain":["+/+","+/-","-/-"],"range":["#2f3cbf","#c544c5","#111111"]},"legend":null}}},
     {"transform":[{"filter":"datum.k=='V'"}],"mark":"line","encoding":{"x":{"field":"x","type":"quantitative","scale":{"domain":[0,12],"nice":false,"zero":false},"axis":null},"y":{"field":"y","type":"quantitative","scale":{"domain":[-30,60],"nice":false,"zero":false},"axis":null},"stroke":{"field":"g","type":"nominal","scale":{"domain":["+/+","+/-","-/-"],"range":["#e5352b","#2e8b3a","#9b9b9b"]},"legend":null}}},
     {"transform":[{"filter":"datum.k=='M'"}],"mark":"line","encoding":{"x":{"field":"x","type":"quantitative","scale":{"domain":[0,12],"nice":false,"zero":false},"axis":{"orient":"bottom","values":[1,2,3,4,5,6,7,8,9,10,11],"labelExpr":"datum.value % 2 == 1 ? datum.label : ''","labelPadding":14,"title":null}},"y":{"field":"y","type":"quantitative","scale":{"domain":[-30,60],"nice":false,"zero":false},"axis":{"orient":"left","values":[-30,-25,-20,-15,-10,-5,0,5,10,15,20,25,30,35,40,45,50,55,60],"labels":false,"title":null}},"stroke":{"field":"g","type":"nominal","scale":{"domain":["+/+","+/-","-/-"],"range":["#2f3cbf","#c544c5","#111111"]},"legend":null}}},
     {"transform":[{"filter":"datum.k=='M'"}],"mark":{"type":"point","shape":"circle"},"encoding":{"x":{"field":"x","type":"quantitative","scale":{"domain":[0,12],"nice":false,"zero":false},"axis":{"orient":"top","values":[1,2,3,4,5,6,7,8,9,10,11],"labels":false,"title":null}},"y":{"field":"y","type":"quantitative","scale":{"domain":[-30,60],"nice":false,"zero":false},"axis":{"orient":"right","values":[-30,-25,-20,-15,-10,-5,0,5,10,15,20,25,30,35,40,45,50,55,60],"labels":false,"title":null}},"stroke":{"field":"g","type":"nominal","scale":{"domain":["+/+","+/-","-/-"],"range":["#2f3cbf","#c544c5","#111111"]},"legend":null},"fill":{"field":"g","type":"nominal","scale":{"domain":["+/+","+/-","-/-"],"range":["#ffffff","#ffffff","#f3ea1c"]},"legend":null}}},
     {"transform":[{"filter":"datum.k=='V'"}],"mark":{"type":"point","shape":"square"},"encoding":{"x":{"field":"x","type":"quantitative","scale":{"domain":[0,12],"nice":false,"zero":false},"axis":null},"y":{"field":"y","type":"quantitative","scale":{"domain":[-30,60],"nice":false,"zero":false},"axis":null},"stroke":{"field":"g","type":"nominal","scale":{"domain":["+/+","+/-","-/-"],"range":["#e5352b","#2e8b3a","#9b9b9b"]},"legend":null},"fill":{"field":"g","type":"nominal","scale":{"domain":["+/+","+/-","-/-"],"range":["#ffffff","#ffffff","#5cc3da"]},"legend":null}}}
    ],
    "resolve": {"scale": {"color": "independent", "stroke": "independent", "fill": "independent"}, "axis": {"x": "independent", "y": "independent"}}
   }
  ]}
 ]}
]},
{"spacing": 25, "hconcat": [
  {"title": {"text": "C", "orient": "bottom", "anchor": "start", "fontSize": 24, "font": "Liberation Sans", "offset": -29}, "spacing": 8, "bounds": "flush", "hconcat": [
   {"width": 224, "height": 346,
    "transform": [{"filter": "datum.p=='C1'"}],
    "layer": [
     {"transform":[{"filter":"datum.k=='V'"}],"mark":{"type":"errorbar","ticks":{"size":6},"thickness":1.2},"encoding":{"x":{"field":"x","type":"quantitative","scale":{"domain":[0,12],"nice":false,"zero":false},"axis":null},"y":{"field":"lo","type":"quantitative","scale":{"domain":[0,140],"nice":false,"zero":false},"axis":null},"y2":{"field":"hi"},"color":{"field":"g","type":"nominal","scale":{"domain":["+/+","+/-","-/-"],"range":["#e5352b","#2e8b3a","#8a8a8a"]},"legend":null}}},
     {"transform":[{"filter":"datum.k=='M'"}],"mark":{"type":"errorbar","ticks":{"size":6},"thickness":1.2},"encoding":{"x":{"field":"x","type":"quantitative","scale":{"domain":[0,12],"nice":false,"zero":false},"axis":null},"y":{"field":"lo","type":"quantitative","scale":{"domain":[0,140],"nice":false,"zero":false},"axis":null},"y2":{"field":"hi"},"color":{"field":"g","type":"nominal","scale":{"domain":["+/+","+/-","-/-"],"range":["#2f3cbf","#c544c5","#111111"]},"legend":null}}},
     {"transform":[{"filter":"datum.k=='V'"}],"mark":"line","encoding":{"x":{"field":"x","type":"quantitative","scale":{"domain":[0,12],"nice":false,"zero":false},"axis":null},"y":{"field":"y","type":"quantitative","scale":{"domain":[0,140],"nice":false,"zero":false},"axis":null},"stroke":{"field":"g","type":"nominal","scale":{"domain":["+/+","+/-","-/-"],"range":["#e5352b","#2e8b3a","#9b9b9b"]},"legend":null}}},
     {"transform":[{"filter":"datum.k=='M'"}],"mark":"line","encoding":{"x":{"field":"x","type":"quantitative","scale":{"domain":[0,12],"nice":false,"zero":false},"axis":{"orient":"bottom","values":[1,2,3,4,5,6,7,8,9,10,11],"labelExpr":"datum.value % 2 == 1 ? datum.label : ''","labelPadding":14,"title":"Strip number (mm)","titleX":228,"titleY":24}},"y":{"field":"y","type":"quantitative","scale":{"domain":[0,140],"nice":false,"zero":false},"axis":{"orient":"left","values":[0,10,20,30,40,50,60,70,80,90,100,110,120,130,140],"labelExpr":"datum.value % 20 == 0 ? datum.label : ''","labelPadding":11,"title":"Weight per strip (µg/mm)","titlePadding":8}},"stroke":{"field":"g","type":"nominal","scale":{"domain":["+/+","+/-","-/-"],"range":["#2f3cbf","#c544c5","#111111"]},"legend":null}}},
     {"transform":[{"filter":"datum.k=='M'"}],"mark":{"type":"point","shape":"circle"},"encoding":{"x":{"field":"x","type":"quantitative","scale":{"domain":[0,12],"nice":false,"zero":false},"axis":{"orient":"top","values":[1,2,3,4,5,6,7,8,9,10,11],"labels":false,"title":null}},"y":{"field":"y","type":"quantitative","scale":{"domain":[0,140],"nice":false,"zero":false},"axis":{"orient":"right","values":[0,10,20,30,40,50,60,70,80,90,100,110,120,130,140],"labels":false,"title":null}},"stroke":{"field":"g","type":"nominal","scale":{"domain":["+/+","+/-","-/-"],"range":["#2f3cbf","#c544c5","#111111"]},"legend":null},"fill":{"field":"g","type":"nominal","scale":{"domain":["+/+","+/-","-/-"],"range":["#ffffff","#ffffff","#f3ea1c"]},"legend":null}}},
     {"transform":[{"filter":"datum.k=='V'"}],"mark":{"type":"point","shape":"square"},"encoding":{"x":{"field":"x","type":"quantitative","scale":{"domain":[0,12],"nice":false,"zero":false},"axis":null},"y":{"field":"y","type":"quantitative","scale":{"domain":[0,140],"nice":false,"zero":false},"axis":null},"stroke":{"field":"g","type":"nominal","scale":{"domain":["+/+","+/-","-/-"],"range":["#e5352b","#2e8b3a","#9b9b9b"]},"legend":null},"fill":{"field":"g","type":"nominal","scale":{"domain":["+/+","+/-","-/-"],"range":["#ffffff","#ffffff","#5cc3da"]},"legend":null}}}
    ],
    "resolve": {"scale": {"color": "independent", "stroke": "independent", "fill": "independent"}, "axis": {"x": "independent", "y": "independent"}}
   },
   {"width": 224, "height": 346,
    "transform": [{"filter": "datum.p=='C2'"}],
    "layer": [
     {"transform":[{"filter":"datum.k=='V'"}],"mark":{"type":"errorbar","ticks":{"size":6},"thickness":1.2},"encoding":{"x":{"field":"x","type":"quantitative","scale":{"domain":[0,12],"nice":false,"zero":false},"axis":null},"y":{"field":"lo","type":"quantitative","scale":{"domain":[0,140],"nice":false,"zero":false},"axis":null},"y2":{"field":"hi"},"color":{"field":"g","type":"nominal","scale":{"domain":["+/+","+/-","-/-"],"range":["#e5352b","#2e8b3a","#8a8a8a"]},"legend":null}}},
     {"transform":[{"filter":"datum.k=='M'"}],"mark":{"type":"errorbar","ticks":{"size":6},"thickness":1.2},"encoding":{"x":{"field":"x","type":"quantitative","scale":{"domain":[0,12],"nice":false,"zero":false},"axis":null},"y":{"field":"lo","type":"quantitative","scale":{"domain":[0,140],"nice":false,"zero":false},"axis":null},"y2":{"field":"hi"},"color":{"field":"g","type":"nominal","scale":{"domain":["+/+","+/-","-/-"],"range":["#2f3cbf","#c544c5","#111111"]},"legend":null}}},
     {"transform":[{"filter":"datum.k=='V'"}],"mark":"line","encoding":{"x":{"field":"x","type":"quantitative","scale":{"domain":[0,12],"nice":false,"zero":false},"axis":null},"y":{"field":"y","type":"quantitative","scale":{"domain":[0,140],"nice":false,"zero":false},"axis":null},"stroke":{"field":"g","type":"nominal","scale":{"domain":["+/+","+/-","-/-"],"range":["#e5352b","#2e8b3a","#9b9b9b"]},"legend":null}}},
     {"transform":[{"filter":"datum.k=='M'"}],"mark":"line","encoding":{"x":{"field":"x","type":"quantitative","scale":{"domain":[0,12],"nice":false,"zero":false},"axis":{"orient":"bottom","values":[1,2,3,4,5,6,7,8,9,10,11],"labelExpr":"datum.value % 2 == 1 ? datum.label : ''","labelPadding":14,"title":null}},"y":{"field":"y","type":"quantitative","scale":{"domain":[0,140],"nice":false,"zero":false},"axis":{"orient":"left","values":[0,10,20,30,40,50,60,70,80,90,100,110,120,130,140],"labels":false,"title":null}},"stroke":{"field":"g","type":"nominal","scale":{"domain":["+/+","+/-","-/-"],"range":["#2f3cbf","#c544c5","#111111"]},"legend":null}}},
     {"transform":[{"filter":"datum.k=='M'"}],"mark":{"type":"point","shape":"circle"},"encoding":{"x":{"field":"x","type":"quantitative","scale":{"domain":[0,12],"nice":false,"zero":false},"axis":{"orient":"top","values":[1,2,3,4,5,6,7,8,9,10,11],"labels":false,"title":null}},"y":{"field":"y","type":"quantitative","scale":{"domain":[0,140],"nice":false,"zero":false},"axis":{"orient":"right","values":[0,10,20,30,40,50,60,70,80,90,100,110,120,130,140],"labels":false,"title":null}},"stroke":{"field":"g","type":"nominal","scale":{"domain":["+/+","+/-","-/-"],"range":["#2f3cbf","#c544c5","#111111"]},"legend":null},"fill":{"field":"g","type":"nominal","scale":{"domain":["+/+","+/-","-/-"],"range":["#ffffff","#ffffff","#f3ea1c"]},"legend":null}}},
     {"transform":[{"filter":"datum.k=='V'"}],"mark":{"type":"point","shape":"square"},"encoding":{"x":{"field":"x","type":"quantitative","scale":{"domain":[0,12],"nice":false,"zero":false},"axis":null},"y":{"field":"y","type":"quantitative","scale":{"domain":[0,140],"nice":false,"zero":false},"axis":null},"stroke":{"field":"g","type":"nominal","scale":{"domain":["+/+","+/-","-/-"],"range":["#e5352b","#2e8b3a","#9b9b9b"]},"legend":null},"fill":{"field":"g","type":"nominal","scale":{"domain":["+/+","+/-","-/-"],"range":["#ffffff","#ffffff","#5cc3da"]},"legend":null}}}
    ],
    "resolve": {"scale": {"color": "independent", "stroke": "independent", "fill": "independent"}, "axis": {"x": "independent", "y": "independent"}}
   }
  ]},
  {"title": {"text": "D", "orient": "bottom", "anchor": "start", "fontSize": 24, "font": "Liberation Sans", "offset": -29}, "spacing": 8, "bounds": "flush", "hconcat": [
   {"width": 224, "height": 346,
    "transform": [{"filter": "datum.p=='D1'"}],
    "layer": [
     {"data":{"values":[{}]},"mark":{"type":"rule","color":"#bdbdbd","strokeWidth":1.5},"encoding":{"y":{"datum":0,"type":"quantitative","scale":{"domain":[-30,60],"nice":false,"zero":false},"axis":null}}},
     {"transform":[{"filter":"datum.k=='V'"}],"mark":{"type":"errorbar","ticks":{"size":6},"thickness":1.2},"encoding":{"x":{"field":"x","type":"quantitative","scale":{"domain":[0,12],"nice":false,"zero":false},"axis":null},"y":{"field":"lo","type":"quantitative","scale":{"domain":[-30,60],"nice":false,"zero":false},"axis":null},"y2":{"field":"hi"},"color":{"field":"g","type":"nominal","scale":{"domain":["+/+","+/-","-/-"],"range":["#e5352b","#2e8b3a","#8a8a8a"]},"legend":null}}},
     {"transform":[{"filter":"datum.k=='M'"}],"mark":{"type":"errorbar","ticks":{"size":6},"thickness":1.2},"encoding":{"x":{"field":"x","type":"quantitative","scale":{"domain":[0,12],"nice":false,"zero":false},"axis":null},"y":{"field":"lo","type":"quantitative","scale":{"domain":[-30,60],"nice":false,"zero":false},"axis":null},"y2":{"field":"hi"},"color":{"field":"g","type":"nominal","scale":{"domain":["+/+","+/-","-/-"],"range":["#2f3cbf","#c544c5","#111111"]},"legend":null}}},
     {"transform":[{"filter":"datum.k=='V'"}],"mark":"line","encoding":{"x":{"field":"x","type":"quantitative","scale":{"domain":[0,12],"nice":false,"zero":false},"axis":null},"y":{"field":"y","type":"quantitative","scale":{"domain":[-30,60],"nice":false,"zero":false},"axis":null},"stroke":{"field":"g","type":"nominal","scale":{"domain":["+/+","+/-","-/-"],"range":["#e5352b","#2e8b3a","#9b9b9b"]},"legend":null}}},
     {"transform":[{"filter":"datum.k=='M'"}],"mark":"line","encoding":{"x":{"field":"x","type":"quantitative","scale":{"domain":[0,12],"nice":false,"zero":false},"axis":{"orient":"bottom","values":[1,2,3,4,5,6,7,8,9,10,11],"labelExpr":"datum.value % 2 == 1 ? datum.label : ''","labelPadding":14,"title":"Strip number (mm)","titleX":228,"titleY":24}},"y":{"field":"y","type":"quantitative","scale":{"domain":[-30,60],"nice":false,"zero":false},"axis":{"orient":"left","values":[-30,-25,-20,-15,-10,-5,0,5,10,15,20,25,30,35,40,45,50,55,60],"labelExpr":"datum.value % 10 == 0 ? datum.label : ''","labelPadding":11,"title":"Weight change between strips (µg/mm)","titlePadding":8}},"stroke":{"field":"g","type":"nominal","scale":{"domain":["+/+","+/-","-/-"],"range":["#2f3cbf","#c544c5","#111111"]},"legend":null}}},
     {"transform":[{"filter":"datum.k=='M'"}],"mark":{"type":"point","shape":"circle"},"encoding":{"x":{"field":"x","type":"quantitative","scale":{"domain":[0,12],"nice":false,"zero":false},"axis":{"orient":"top","values":[1,2,3,4,5,6,7,8,9,10,11],"labels":false,"title":null}},"y":{"field":"y","type":"quantitative","scale":{"domain":[-30,60],"nice":false,"zero":false},"axis":{"orient":"right","values":[-30,-25,-20,-15,-10,-5,0,5,10,15,20,25,30,35,40,45,50,55,60],"labels":false,"title":null}},"stroke":{"field":"g","type":"nominal","scale":{"domain":["+/+","+/-","-/-"],"range":["#2f3cbf","#c544c5","#111111"]},"legend":null},"fill":{"field":"g","type":"nominal","scale":{"domain":["+/+","+/-","-/-"],"range":["#ffffff","#ffffff","#f3ea1c"]},"legend":null}}},
     {"transform":[{"filter":"datum.k=='V'"}],"mark":{"type":"point","shape":"square"},"encoding":{"x":{"field":"x","type":"quantitative","scale":{"domain":[0,12],"nice":false,"zero":false},"axis":null},"y":{"field":"y","type":"quantitative","scale":{"domain":[-30,60],"nice":false,"zero":false},"axis":null},"stroke":{"field":"g","type":"nominal","scale":{"domain":["+/+","+/-","-/-"],"range":["#e5352b","#2e8b3a","#9b9b9b"]},"legend":null},"fill":{"field":"g","type":"nominal","scale":{"domain":["+/+","+/-","-/-"],"range":["#ffffff","#ffffff","#5cc3da"]},"legend":null}}}
    ],
    "resolve": {"scale": {"color": "independent", "stroke": "independent", "fill": "independent"}, "axis": {"x": "independent", "y": "independent"}}
   },
   {"width": 224, "height": 346,
    "transform": [{"filter": "datum.p=='D2'"}],
    "layer": [
     {"data":{"values":[{}]},"mark":{"type":"rule","color":"#bdbdbd","strokeWidth":1.5},"encoding":{"y":{"datum":0,"type":"quantitative","scale":{"domain":[-30,60],"nice":false,"zero":false},"axis":null}}},
     {"transform":[{"filter":"datum.k=='V'"}],"mark":{"type":"errorbar","ticks":{"size":6},"thickness":1.2},"encoding":{"x":{"field":"x","type":"quantitative","scale":{"domain":[0,12],"nice":false,"zero":false},"axis":null},"y":{"field":"lo","type":"quantitative","scale":{"domain":[-30,60],"nice":false,"zero":false},"axis":null},"y2":{"field":"hi"},"color":{"field":"g","type":"nominal","scale":{"domain":["+/+","+/-","-/-"],"range":["#e5352b","#2e8b3a","#8a8a8a"]},"legend":null}}},
     {"transform":[{"filter":"datum.k=='M'"}],"mark":{"type":"errorbar","ticks":{"size":6},"thickness":1.2},"encoding":{"x":{"field":"x","type":"quantitative","scale":{"domain":[0,12],"nice":false,"zero":false},"axis":null},"y":{"field":"lo","type":"quantitative","scale":{"domain":[-30,60],"nice":false,"zero":false},"axis":null},"y2":{"field":"hi"},"color":{"field":"g","type":"nominal","scale":{"domain":["+/+","+/-","-/-"],"range":["#2f3cbf","#c544c5","#111111"]},"legend":null}}},
     {"transform":[{"filter":"datum.k=='V'"}],"mark":"line","encoding":{"x":{"field":"x","type":"quantitative","scale":{"domain":[0,12],"nice":false,"zero":false},"axis":null},"y":{"field":"y","type":"quantitative","scale":{"domain":[-30,60],"nice":false,"zero":false},"axis":null},"stroke":{"field":"g","type":"nominal","scale":{"domain":["+/+","+/-","-/-"],"range":["#e5352b","#2e8b3a","#9b9b9b"]},"legend":null}}},
     {"transform":[{"filter":"datum.k=='M'"}],"mark":"line","encoding":{"x":{"field":"x","type":"quantitative","scale":{"domain":[0,12],"nice":false,"zero":false},"axis":{"orient":"bottom","values":[1,2,3,4,5,6,7,8,9,10,11],"labelExpr":"datum.value % 2 == 1 ? datum.label : ''","labelPadding":14,"title":null}},"y":{"field":"y","type":"quantitative","scale":{"domain":[-30,60],"nice":false,"zero":false},"axis":{"orient":"left","values":[-30,-25,-20,-15,-10,-5,0,5,10,15,20,25,30,35,40,45,50,55,60],"labels":false,"title":null}},"stroke":{"field":"g","type":"nominal","scale":{"domain":["+/+","+/-","-/-"],"range":["#2f3cbf","#c544c5","#111111"]},"legend":null}}},
     {"transform":[{"filter":"datum.k=='M'"}],"mark":{"type":"point","shape":"circle"},"encoding":{"x":{"field":"x","type":"quantitative","scale":{"domain":[0,12],"nice":false,"zero":false},"axis":{"orient":"top","values":[1,2,3,4,5,6,7,8,9,10,11],"labels":false,"title":null}},"y":{"field":"y","type":"quantitative","scale":{"domain":[-30,60],"nice":false,"zero":false},"axis":{"orient":"right","values":[-30,-25,-20,-15,-10,-5,0,5,10,15,20,25,30,35,40,45,50,55,60],"labels":false,"title":null}},"stroke":{"field":"g","type":"nominal","scale":{"domain":["+/+","+/-","-/-"],"range":["#2f3cbf","#c544c5","#111111"]},"legend":null},"fill":{"field":"g","type":"nominal","scale":{"domain":["+/+","+/-","-/-"],"range":["#ffffff","#ffffff","#f3ea1c"]},"legend":null}}},
     {"transform":[{"filter":"datum.k=='V'"}],"mark":{"type":"point","shape":"square"},"encoding":{"x":{"field":"x","type":"quantitative","scale":{"domain":[0,12],"nice":false,"zero":false},"axis":null},"y":{"field":"y","type":"quantitative","scale":{"domain":[-30,60],"nice":false,"zero":false},"axis":null},"stroke":{"field":"g","type":"nominal","scale":{"domain":["+/+","+/-","-/-"],"range":["#e5352b","#2e8b3a","#9b9b9b"]},"legend":null},"fill":{"field":"g","type":"nominal","scale":{"domain":["+/+","+/-","-/-"],"range":["#ffffff","#ffffff","#5cc3da"]},"legend":null}}}
    ],
    "resolve": {"scale": {"color": "independent", "stroke": "independent", "fill": "independent"}, "axis": {"x": "independent", "y": "independent"}}
   }
  ]}
]}
]
}
